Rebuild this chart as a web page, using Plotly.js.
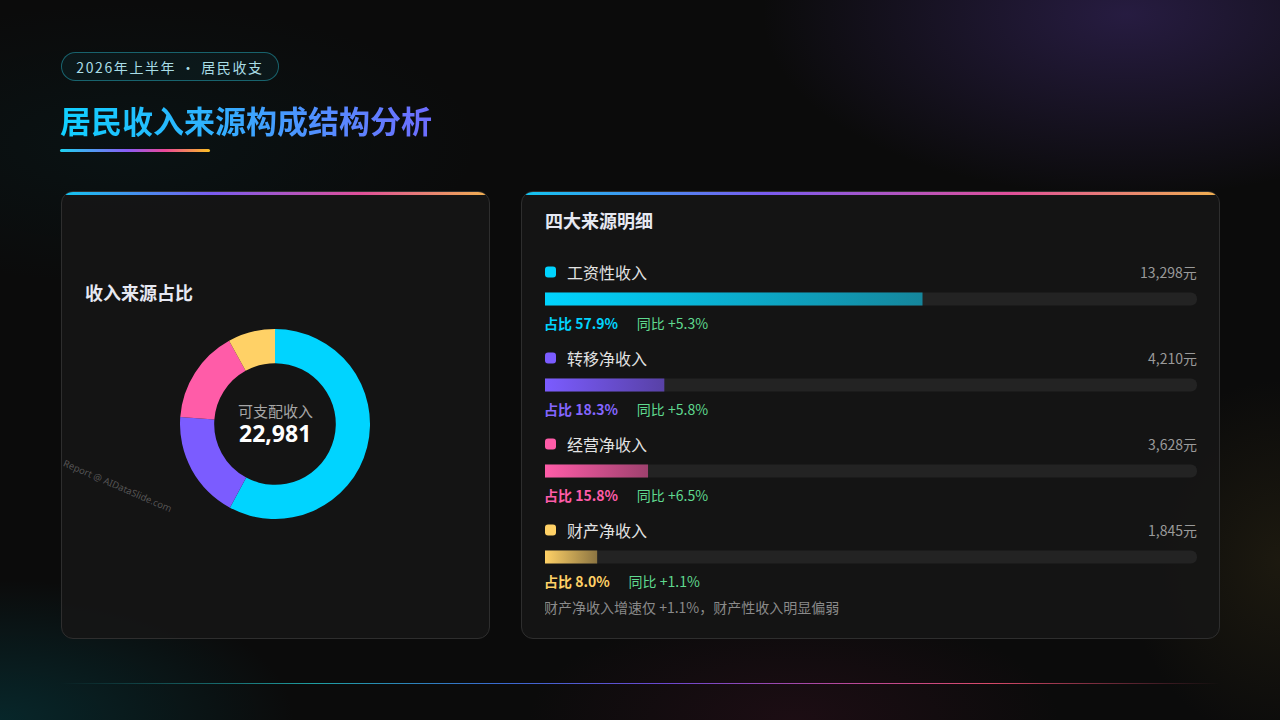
<!DOCTYPE html>
<html>
<head>
<meta charset="utf-8">
<script src="https://cdn.plot.ly/plotly-3.0.1.min.js"></script>
<style>
  html, body { margin:0; padding:0; width:1280px; height:720px; overflow:hidden; }
  body {
    position:relative;
    font-family:"Noto Sans CJK SC","Noto Sans",sans-serif;
    background:
      radial-gradient(ellipse 520px 260px at 88% 2%, rgba(72,48,130,0.45), rgba(0,0,0,0) 70%),
      radial-gradient(ellipse 420px 200px at 0% 100%, rgba(0,90,100,0.35), rgba(0,0,0,0) 70%),
      radial-gradient(ellipse 380px 160px at 62% 100%, rgba(90,20,50,0.22), rgba(0,0,0,0) 70%),
      radial-gradient(ellipse 220px 260px at 100% 78%, rgba(90,75,30,0.22), rgba(0,0,0,0) 70%),
      radial-gradient(ellipse 500px 200px at 10% 20%, rgba(0,60,70,0.15), rgba(0,0,0,0) 70%),
      #0b0b0b;
  }
  .badge {
    position:absolute; left:61px; top:52px; width:216px; height:27px;
    border:1px solid rgba(40,190,210,0.45); border-radius:15px;
    background:rgba(30,160,180,0.07);
    color:#a9dde6; font-size:14px; letter-spacing:1.6px;
    display:flex; align-items:center; justify-content:center;
  }
  .title {
    position:absolute; left:60px; top:98px; font-size:31px; font-weight:700; line-height:44px;
    background:linear-gradient(90deg,#10d0ff 0%,#2fb2ff 40%,#5888ff 75%,#6e6cff 100%);
    -webkit-background-clip:text; background-clip:text; color:transparent;
  }
  .uline {
    position:absolute; left:60px; top:149px; width:150px; height:3px; border-radius:2px;
    background:linear-gradient(90deg,#1ed2f0,#8b5cf6 45%,#ec4899 70%,#fbbf24);
  }
  .card {
    position:absolute; top:191px; height:446px;
    border:1px solid #2e2e2e; border-radius:12px;
    background:rgba(22,22,22,0.88); overflow:hidden;
  }
  .card::before {
    content:""; position:absolute; left:0; right:0; top:0; height:3px;
    background:linear-gradient(90deg,#12c6f0,#7a5cf0 35%,#e0509a 70%,#f0b050);
  }
  .ctitle { position:absolute; font-size:18px; font-weight:700; color:#e6e8f2; }
  .unit { position:absolute; left:0; width:428px; top:548px; text-align:center; font-size:13px; color:#8a8a8a; }
  .wm {
    position:absolute; left:64px; top:456px; font-size:9.5px; color:rgba(255,255,255,0.28);
    transform:rotate(23.5deg); transform-origin:0 50%; white-space:nowrap; font-family:"Noto Sans",sans-serif;
  }
  .bline {
    position:absolute; left:60px; top:683px; width:1160px; height:1px;
    background:linear-gradient(90deg,rgba(0,0,0,0) 0%,#1f9ea2 22%,#3a6ad0 38%,#6a48d0 52%,#b8489a 68%,#d84a6a 80%,rgba(0,0,0,0) 100%);
  }
  #donut { position:absolute; left:180px; top:329px; width:190px; height:190px; }
  #bars { position:absolute; left:545px; top:250px; width:652px; height:372px; }
</style>
</head>
<body>
<svg width="0" height="0" style="position:absolute"><defs id="gdefs"></defs></svg>

<div class="badge">2026年上半年 · 居民收支</div>
<div class="title">居民收入来源构成结构分析</div>
<div class="uline"></div>

<div class="card" style="left:61px; width:427px;">
  <div class="ctitle" style="left:23px; top:87px;">收入来源占比</div>
  <div class="unit">单位：元（人均）</div>
</div>
<div class="wm">Report @ AIDataSlide.com</div>

<div class="card" style="left:521px; width:697px;">
  <div class="ctitle" style="left:23px; top:15px;">四大来源明细</div>
</div>

<div id="donut"></div>
<div id="bars"></div>
<div class="bline"></div>

<script>
// ---- data ----
const categories = ['工资性收入', '转移净收入', '经营净收入', '财产净收入'];
const amounts = [13298, 4210, 3628, 1845];          // 元（人均）
const shares = [57.9, 18.3, 15.8, 8.0];             // 占比 %
const yoy = [5.3, 5.8, 6.5, 1.1];                   // 同比 %
const totalIncome = 22981;
const colors = ['#00d4ff', '#7b5cff', '#ff5ca8', '#ffd166'];
const gradEnds = ['#15869c', '#5841a6', '#9e416e', '#8c7542'];
const shareTextColors = ['#00d4ff', '#8466ff', '#ff5ca8', '#ffd166'];
const noteText = '财产净收入增速仅 +1.1%，财产性收入明显偏弱';

const FONT = '"Noto Sans CJK SC","Noto Sans",sans-serif';
const fmt = n => n.toLocaleString('en-US');

// ---- donut ----
Plotly.newPlot('donut', [{
  type: 'pie',
  labels: categories,
  values: amounts,
  hole: 0.64,
  sort: false,
  direction: 'clockwise',
  rotation: 0,
  textinfo: 'none',
  marker: { colors: colors, line: { width: 0 } },
  hoverinfo: 'skip'
}], {
  width: 190, height: 190,
  margin: { l: 0, r: 0, t: 0, b: 0 },
  paper_bgcolor: 'rgba(0,0,0,0)', plot_bgcolor: 'rgba(0,0,0,0)',
  showlegend: false,
  annotations: [
    { text: '可支配收入', x: 0.5, y: 0.572, xref: 'paper', yref: 'paper', showarrow: false,
      font: { family: FONT, size: 15, color: '#a6a6a6' } },
    { text: '<b>' + fmt(totalIncome) + '</b>', x: 0.5, y: 0.452, xref: 'paper', yref: 'paper', showarrow: false,
      font: { family: '"Noto Sans",' + FONT, size: 23, color: '#ffffff' } }
  ]
}, { staticPlot: true, displayModeBar: false });

// ---- bars ----
const idx = categories.map((_, i) => i);
const annotations = [];
const shapes = [];
const nb = '\u00a0';
categories.forEach((c, i) => {
  annotations.push({ text: c, xref: 'paper', x: 0, xshift: 20, yref: 'y', y: i, yshift: 27,
    xanchor: 'left', yanchor: 'middle', showarrow: false,
    font: { family: FONT, size: 16, color: '#e2e2e2' } });
  annotations.push({ text: fmt(amounts[i]) + '元', xref: 'paper', x: 1, xshift: 2, yref: 'y', y: i, yshift: 27,
    xanchor: 'right', yanchor: 'middle', showarrow: false,
    font: { family: FONT, size: 14, color: '#9a9a9a' } });
  annotations.push({
    text: '<b>占比 ' + shares[i].toFixed(1) + '%</b>' + nb.repeat(6) +
          '<span style="color:#5fd98f">同比 +' + yoy[i].toFixed(1) + '%</span>',
    xref: 'paper', x: 0, xshift: -3, yref: 'y', y: i, yshift: -24,
    xanchor: 'left', yanchor: 'middle', showarrow: false,
    font: { family: FONT, size: 14, color: shareTextColors[i] } });
  shapes.push({
    type: 'path', xref: 'paper', xsizemode: 'pixel', xanchor: 0,
    yref: 'y', ysizemode: 'pixel', yanchor: i,
    path: 'M3,32.5 L8,32.5 Q11,32.5 11,29.5 L11,24.5 Q11,21.5 8,21.5 L3,21.5 Q0,21.5 0,24.5 L0,29.5 Q0,32.5 3,32.5 Z',
    fillcolor: colors[i], line: { width: 0 }
  });
});
annotations.push({ text: noteText, xref: 'paper', x: 0, xshift: -3, yref: 'paper', y: 0, yshift: -7,
  xanchor: 'left', yanchor: 'middle', showarrow: false,
  font: { family: FONT, size: 14, color: '#8a8a8a' } });

const barW = 13 / 86;
const R = 6.5;
Plotly.newPlot('bars', [
  { type: 'bar', orientation: 'h', y: idx, x: idx.map(() => 100), width: barW,
    marker: { color: '#232323', cornerradius: R, line: { width: 0 } }, hoverinfo: 'skip' },
  { type: 'bar', orientation: 'h', y: idx, x: shares, width: barW,
    marker: { color: colors, cornerradius: R, line: { width: 0 } }, hoverinfo: 'skip' }
], {
  width: 652, height: 372,
  margin: { l: 0, r: 0, t: 6, b: 22 },
  paper_bgcolor: 'rgba(0,0,0,0)', plot_bgcolor: 'rgba(0,0,0,0)',
  barmode: 'overlay', showlegend: false,
  xaxis: { range: [0, 100], visible: false, fixedrange: true },
  yaxis: { range: [3.5, -0.5], visible: false, fixedrange: true },
  annotations: annotations,
  shapes: shapes
}, { staticPlot: true, displayModeBar: false }).then(gd => {
  const xa = gd._fullLayout.xaxis;
  const defs = document.getElementById('gdefs');
  const NS = 'http://www.w3.org/2000/svg';
  shares.forEach((s, i) => {
    const g = document.createElementNS(NS, 'linearGradient');
    g.setAttribute('id', 'gb' + i);
    g.setAttribute('gradientUnits', 'userSpaceOnUse');
    g.setAttribute('x1', xa.l2p(0)); g.setAttribute('x2', xa.l2p(s));
    g.setAttribute('y1', 0); g.setAttribute('y2', 0);
    [[0, colors[i]], [1, gradEnds[i]]].forEach(([o, c]) => {
      const st = document.createElementNS(NS, 'stop');
      st.setAttribute('offset', o); st.setAttribute('stop-color', c);
      g.appendChild(st);
    });
    defs.appendChild(g);
  });
  const traces = gd.querySelectorAll('.barlayer .trace');
  if (traces[1]) {
    traces[1].querySelectorAll('.point path').forEach((p, i) => {
      p.style.fill = 'url(#gb' + i + ')';
    });
  }
});
</script>
</body>
</html>
